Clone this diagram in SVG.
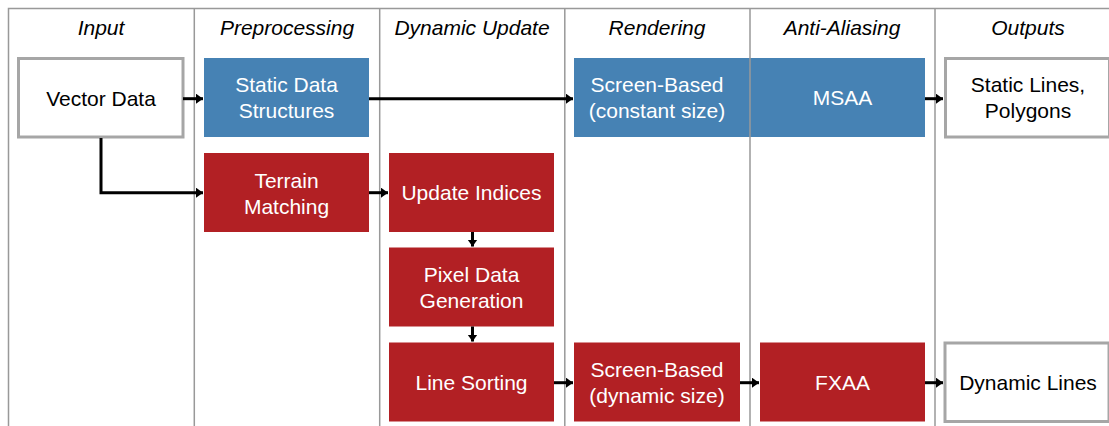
<svg xmlns="http://www.w3.org/2000/svg" width="1109" height="426" viewBox="0 0 1109 426">
<style>
text{font-family:"Liberation Sans",Arial,sans-serif;font-size:21px;text-anchor:middle}
.hd{font-style:italic;fill:#000}
.w{fill:#fff}
.k{fill:#000}
.blue{fill:#4682B4}
.red{fill:#B22024}
.out{fill:#fff;stroke:#A6A6A6;stroke-width:3}
.lane{stroke:#999;stroke-width:1.5;fill:none}
.c{stroke:#000;stroke-width:3;fill:none;marker-end:url(#ah)}
</style>
<defs>
<marker id="ah" markerUnits="userSpaceOnUse" markerWidth="8" markerHeight="11" refX="7" refY="5" orient="auto">
<path d="M0,0 L7,5 L0,10 z" fill="#000"/>
</marker>
</defs>
<rect width="1109" height="426" fill="#fff"/>
<g id="headers">
<text class="hd" x="101" y="35">Input</text>
<text class="hd" x="287" y="35">Preprocessing</text>
<text class="hd" x="472" y="35">Dynamic Update</text>
<text class="hd" x="657" y="35">Rendering</text>
<text class="hd" x="842" y="35">Anti-Aliasing</text>
<text class="hd" x="1028" y="35">Outputs</text>
</g>
<g id="vector-data">
<rect class="out" x="18.5" y="58.5" width="164.5" height="78.5"/>
<text class="k" x="101" y="106">Vector Data</text>
</g>
<g id="static-data">
<rect class="blue" x="204" y="58" width="165" height="79"/>
<text class="w" x="286.5" y="92">Static Data</text>
<text class="w" x="286.5" y="118">Structures</text>
</g>
<g id="terrain-matching">
<rect class="red" x="204" y="153" width="165" height="79"/>
<text class="w" x="286.5" y="187.5">Terrain</text>
<text class="w" x="286.5" y="213.5">Matching</text>
</g>
<g id="update-indices">
<rect class="red" x="389" y="153" width="165" height="79"/>
<text class="w" x="471.5" y="200">Update Indices</text>
</g>
<g id="pixel-data">
<rect class="red" x="389" y="247.5" width="165" height="79"/>
<text class="w" x="471.5" y="281.5">Pixel Data</text>
<text class="w" x="471.5" y="307.5">Generation</text>
</g>
<g id="line-sorting">
<rect class="red" x="389" y="342.5" width="165" height="79"/>
<text class="w" x="471.5" y="389.5">Line Sorting</text>
</g>
<g id="screen-constant">
<rect class="blue" x="574" y="58" width="177" height="79"/>
<text class="w" x="657" y="92">Screen-Based</text>
<text class="w" x="657" y="118">(constant size)</text>
</g>
<g id="msaa">
<rect class="blue" x="750" y="58" width="175" height="79"/>
<text class="w" x="842.5" y="105">MSAA</text>
</g>
<g id="screen-dynamic">
<rect class="red" x="574" y="342.5" width="166" height="79"/>
<text class="w" x="657" y="376.5">Screen-Based</text>
<text class="w" x="657" y="402.5">(dynamic size)</text>
</g>
<g id="fxaa">
<rect class="red" x="760" y="342.5" width="165" height="79"/>
<text class="w" x="842.5" y="389.5">FXAA</text>
</g>
<g id="static-lines">
<rect class="out" x="945.5" y="58.5" width="164" height="78.5"/>
<text class="k" x="1028" y="92">Static Lines,</text>
<text class="k" x="1028" y="118">Polygons</text>
</g>
<g id="dynamic-lines">
<rect class="out" x="945" y="343" width="164" height="78.5"/>
<text class="k" x="1028" y="389.5">Dynamic Lines</text>
</g>
<g id="lanes">
<path class="lane" d="M8.5,440 V8.5 H1120 M194.3,8.5 V440 M379.7,8.5 V440 M564.8,8.5 V440 M750,8.5 V440 M935,8.5 V440"/>
</g>
<g id="connectors">
<path class="c" d="M183,98.7 H203"/>
<path class="c" d="M101,138 V192.7 H203"/>
<path class="c" d="M369,98.7 H573"/>
<path class="c" d="M369,192.7 H388"/>
<path class="c" d="M472.5,232 V246.5"/>
<path class="c" d="M472.5,326.5 V341.5"/>
<path class="c" d="M554,382.7 H573"/>
<path class="c" d="M740,382.7 H759"/>
<path class="c" d="M925,98.7 H943"/>
<path class="c" d="M925,382.7 H943"/>
</g>
</svg>
